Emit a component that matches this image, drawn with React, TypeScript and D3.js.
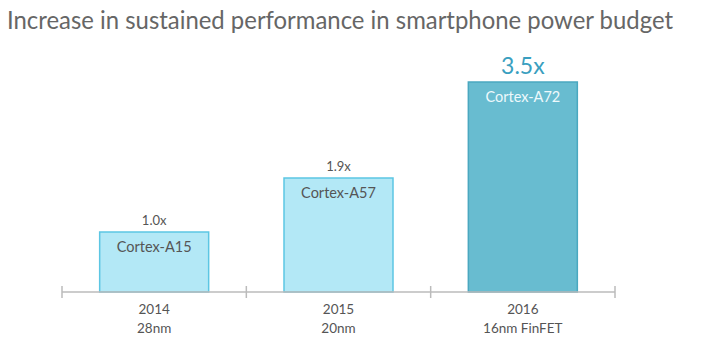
import React from "react";
import * as d3 from "d3";

const categories = ["2014", "2015", "2016"];
const nodes = ["28nm", "20nm", "16nm FinFET"];
const cores = ["Cortex-A15", "Cortex-A57", "Cortex-A72"];
const values = [1.0, 1.9, 3.5];
const valueLabels = ["1.0x", "1.9x", "3.5x"];

const W = 704;
const H = 356;
const axisY = 292;
const x0 = 62;
const x1 = 615;

export default function App() {
  const x = d3.scaleBand<string>().domain(categories).range([x0, x1]).paddingInner(0).paddingOuter(0);
  const y = d3.scaleLinear().domain([0, 3.5]).range([axisY, 82]);
  const bw = 109;
  const ticks = [x0, ...categories.map((c) => (x(c) as number) + x.bandwidth())];
  const font = "Lato, 'Open Sans', sans-serif";
  return (
    <svg width={W} height={H} style={{ position: "absolute", left: 0, top: 0 }}>
      <rect width={W} height={H} fill="#fff" />
      <text x={7} y={29} fontFamily={font} fontSize={25} fill="#666" textLength={666} lengthAdjust="spacingAndGlyphs">
        Increase in sustained performance in smartphone power budget
      </text>
      {categories.map((c, i) => {
        const cx = (x(c) as number) + x.bandwidth() / 2;
        const top = y(values[i]);
        const big = i === 2;
        return (
          <g key={c}>
            <rect
              x={cx - bw / 2}
              y={top}
              width={bw}
              height={axisY - top}
              fill={big ? "#68bcd0" : "#b3e8f6"}
              stroke={big ? "#4aa8c0" : "#5cc6e3"}
              strokeWidth={1.5}
            />
            <text x={cx} y={top + 20} textAnchor="middle" fontFamily={font} fontSize={14.5} fill={big ? "#eef9fc" : "#555"}>
              {cores[i]}
            </text>
            <text
              x={cx}
              y={big ? top - 8 : top - 7}
              textAnchor="middle"
              fontFamily={font}
              fontSize={big ? 23 : 13}
              fill={big ? "#3a9fc0" : "#555"}
            >
              {valueLabels[i]}
            </text>
            <text x={cx} y={314} textAnchor="middle" fontFamily={font} fontSize={13.5} fill="#555">
              {c}
            </text>
            <text x={cx} y={333} textAnchor="middle" fontFamily={font} fontSize={13.5} fill="#555">
              {nodes[i]}
            </text>
          </g>
        );
      })}
      <line x1={x0} x2={x1} y1={axisY} y2={axisY} stroke="#bbb" strokeWidth={1.5} />
      {ticks.map((t, i) => (
        <line key={i} x1={t} x2={t} y1={axisY - 6} y2={axisY + 6} stroke="#bbb" strokeWidth={1.5} />
      ))}
    </svg>
  );
}
